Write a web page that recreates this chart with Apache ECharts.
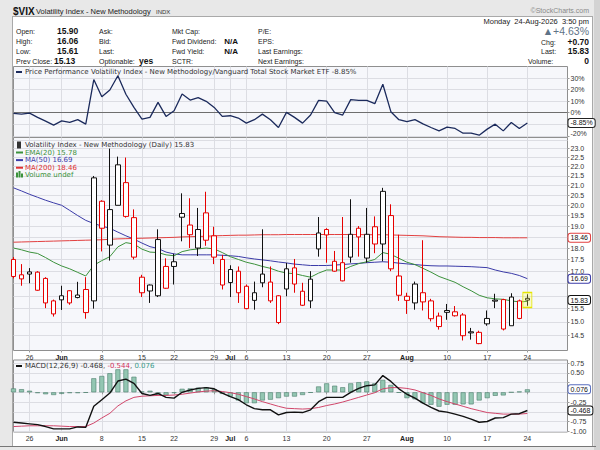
<!DOCTYPE html>
<html><head><meta charset="utf-8">
<script src="https://cdn.jsdelivr.net/npm/echarts@6.0.0/dist/echarts.min.js"></script>
<style>
html,body{margin:0;padding:0;background:#e8e8e8;width:600px;height:450px;overflow:hidden;}
#frame{position:absolute;left:12px;top:16px;width:581px;height:431px;background:#fff;border:1px solid #a9a9a9;box-sizing:border-box;}
#strip{position:absolute;left:594px;top:0;width:6px;height:450px;background:#d3d3d3;}
#bline{position:absolute;left:0;top:446px;width:596px;height:1px;background:#777;}
#chart{position:absolute;left:0;top:0;width:600px;height:450px;}
</style></head><body>
<div id="frame"></div><div id="strip"></div><div id="bline"></div><div id="chart"></div>
<script>
// ---------------- data ----------------
const tradeDates = ['2026-05-21','2026-05-22','2026-05-26','2026-05-27','2026-05-28','2026-05-29',
 '2026-06-01','2026-06-02','2026-06-03','2026-06-04','2026-06-05',
 '2026-06-08','2026-06-09','2026-06-10','2026-06-11','2026-06-12',
 '2026-06-15','2026-06-16','2026-06-17','2026-06-18',
 '2026-06-22','2026-06-23','2026-06-24','2026-06-25','2026-06-26',
 '2026-06-29','2026-06-30','2026-07-01','2026-07-02',
 '2026-07-06','2026-07-07','2026-07-08','2026-07-09','2026-07-10',
 '2026-07-13','2026-07-14','2026-07-15','2026-07-16','2026-07-17',
 '2026-07-20','2026-07-21','2026-07-22','2026-07-23','2026-07-24',
 '2026-07-27','2026-07-28','2026-07-29','2026-07-30','2026-07-31',
 '2026-08-03','2026-08-04','2026-08-05','2026-08-06','2026-08-07',
 '2026-08-10','2026-08-11','2026-08-12','2026-08-13','2026-08-14',
 '2026-08-17','2026-08-18','2026-08-19','2026-08-20','2026-08-21',
 '2026-08-24'];
const futureDates = ['2026-08-25','2026-08-26','2026-08-27','2026-08-28','2026-08-31'];
const tickDates = ['2026-05-26','2026-06-01','2026-06-08','2026-06-15','2026-06-22','2026-06-29','2026-07-01',
 '2026-07-06','2026-07-13','2026-07-20','2026-07-27','2026-08-03','2026-08-10','2026-08-17','2026-08-24'];
const tickLabels = ['26','Jun','8','15','22','29','Jul','6','13','20','27','Aug','10','17','24'];

const openP = [17.50,16.85,16.88,16.96,16.70,15.80,15.84,16.20,15.93,16.25,
 15.80,20.20,18.13,20.00,21.15,19.40,16.75,16.19,16.00,17.20,
 17.40,19.60,19.05,18.00,19.63,18.55,17.50,17.07,17.00,16.38,
 15.82,16.52,16.55,16.00,16.27,17.14,16.18,15.80,17.96,18.84,
 17.42,17.36,17.60,18.90,17.56,18.97,18.18,19.50,16.80,15.98,
 15.72,16.12,15.80,15.22,15.36,15.38,15.26,14.64,14.62,14.93,
 15.83,15.85,14.86,15.80,15.90];
const highP = [17.60,17.30,17.13,17.00,16.75,15.85,16.40,16.22,16.56,16.75,
 21.50,20.25,23.00,22.55,22.50,19.80,16.85,16.45,18.85,17.55,
 17.75,20.60,20.35,19.87,20.68,18.97,17.70,17.25,17.20,16.45,
 16.57,18.85,17.20,16.02,17.35,17.52,16.52,17.00,19.43,18.90,
 17.87,19.43,20.30,19.00,19.87,19.46,20.88,20.05,18.60,16.12,
 16.57,18.35,15.88,15.35,15.68,15.60,15.33,14.78,14.68,15.43,
 16.08,15.88,16.10,15.85,16.06];
const lowP = [16.70,16.40,16.50,16.20,15.52,15.20,15.45,15.65,15.90,15.12,
 15.50,17.85,17.45,20.00,19.40,17.50,15.95,15.72,15.95,16.28,
 16.45,18.30,18.00,17.65,18.10,17.30,16.25,15.95,15.72,15.48,
 15.46,16.34,15.72,14.92,15.98,16.12,15.60,15.52,17.62,17.36,
 16.98,16.58,17.36,17.62,17.36,17.77,17.42,17.00,15.80,15.30,
 15.46,15.43,15.02,14.72,15.08,15.20,14.33,14.36,14.20,14.86,
 15.52,14.69,14.86,15.10,15.61];
const closeP = [16.78,16.68,16.97,16.22,15.72,15.30,16.00,15.72,16.03,15.35,
 21.40,18.90,19.79,22.10,19.46,17.60,16.12,16.43,18.38,16.30,
 17.20,19.42,18.60,18.84,18.35,17.60,16.43,16.53,16.12,15.50,
 16.12,16.88,15.80,14.98,17.10,16.47,15.63,16.67,18.68,18.59,
 17.00,16.60,18.62,18.50,18.62,18.18,20.70,17.10,16.02,15.82,
 16.47,15.76,15.12,14.83,15.43,15.23,14.50,14.60,14.22,15.13,
 15.79,14.74,15.95,15.13,15.83];
const ema20 = [18.00,17.92,17.82,17.76,17.58,17.38,17.22,17.10,16.95,16.80,
 17.25,17.45,17.62,18.05,18.24,18.18,17.95,17.82,17.80,17.70,
 17.66,17.84,17.92,17.96,18.00,17.96,17.80,17.62,17.50,17.38,
 17.30,17.20,17.12,17.00,16.92,16.90,16.82,16.75,16.92,17.05,
 17.05,17.05,17.20,17.32,17.40,17.50,17.80,17.72,17.55,17.38,
 17.28,17.12,16.96,16.78,16.66,16.54,16.36,16.20,16.02,15.92,
 15.88,15.86,15.80,15.76,15.78];
const ma50 = [20.88,20.72,20.55,20.40,20.25,20.12,20.00,19.75,19.50,19.27,
 19.12,19.00,18.90,18.72,18.55,18.40,18.22,18.06,17.98,17.82,
 17.74,17.70,17.70,17.70,17.70,17.70,17.68,17.66,17.63,17.57,
 17.52,17.48,17.44,17.39,17.35,17.30,17.27,17.24,17.24,17.24,
 17.26,17.28,17.31,17.33,17.36,17.38,17.40,17.38,17.34,17.31,
 17.28,17.25,17.23,17.22,17.22,17.21,17.20,17.19,17.17,17.15,
 17.05,16.97,16.91,16.82,16.69];
const ma200 = [18.26,18.27,18.28,18.29,18.30,18.31,18.32,18.33,18.34,18.35,
 18.36,18.37,18.39,18.41,18.42,18.43,18.44,18.45,18.46,18.47,
 18.48,18.50,18.51,18.52,18.53,18.55,18.56,18.57,18.58,18.58,
 18.59,18.60,18.60,18.60,18.61,18.61,18.61,18.61,18.61,18.61,
 18.61,18.61,18.61,18.61,18.60,18.60,18.60,18.59,18.58,18.57,
 18.56,18.55,18.53,18.51,18.50,18.49,18.48,18.48,18.47,18.47,
 18.47,18.46,18.46,18.46,18.46];
const perfPct = [-0.6,-1.2,-0.3,-4.0,-7.3,-10.7,-7.0,-8.4,-6.0,-9.9,
 28.7,13.9,19.7,32.0,16.0,4.6,-5.5,-4.0,9.0,-3.2,
 1.7,16.2,11.0,13.0,9.9,4.6,-3.2,-2.6,-4.6,-9.0,
 -6.0,-1.2,-6.0,-12.8,0.3,-4.0,-9.0,-2.0,10.7,10.0,
 0.0,-2.0,11.3,10.7,10.7,7.8,24.6,0.9,-6.0,-7.8,
 -6.0,-9.6,-12.8,-15.7,-12.5,-13.6,-17.7,-17.7,-19.4,-14.2,
 -9.9,-15.7,-8.4,-13.6,-8.85];
const macdLine = [-0.77,-0.79,-0.81,-0.83,-0.88,-0.94,-0.94,-0.94,-0.89,-0.90,
 -0.36,-0.19,-0.02,0.29,0.34,0.23,-0.03,-0.08,-0.03,-0.13,
 -0.15,0.00,0.06,0.10,0.12,0.09,-0.02,-0.11,-0.19,-0.32,
 -0.42,-0.45,-0.45,-0.58,-0.52,-0.51,-0.52,-0.45,-0.24,-0.13,
 -0.13,-0.13,0.00,0.10,0.17,0.19,0.43,0.28,0.09,-0.05,
 -0.15,-0.28,-0.39,-0.48,-0.51,-0.56,-0.62,-0.69,-0.77,-0.75,
 -0.66,-0.65,-0.56,-0.55,-0.468];
const signalLine = [-0.88,-0.87,-0.86,-0.86,-0.86,-0.86,-0.87,-0.88,-0.88,-0.88,
 -0.79,-0.66,-0.54,-0.35,-0.22,-0.13,-0.10,-0.09,-0.08,-0.08,
 -0.07,-0.05,-0.02,0.01,0.03,0.04,0.02,-0.01,-0.05,-0.11,
 -0.17,-0.24,-0.30,-0.36,-0.41,-0.42,-0.43,-0.42,-0.39,-0.34,
 -0.30,-0.25,-0.19,-0.13,-0.07,-0.01,0.09,0.12,0.12,0.10,
 0.06,-0.01,-0.08,-0.17,-0.24,-0.30,-0.36,-0.42,-0.47,-0.52,
 -0.54,-0.56,-0.56,-0.56,-0.544];
const macdHist = [0.10,0.08,0.04,-0.02,-0.05,-0.07,-0.04,-0.02,-0.02,-0.01,
 0.36,0.42,0.49,0.59,0.59,0.40,0.02,0.04,-0.07,-0.08,
 -0.02,0.09,0.10,0.12,0.13,0.08,-0.04,-0.11,-0.21,-0.28,
 -0.28,-0.21,-0.19,-0.15,-0.11,-0.11,-0.07,-0.01,0.15,0.23,
 0.17,0.13,0.23,0.26,0.28,0.23,0.32,0.19,-0.01,-0.15,
 -0.18,-0.28,-0.32,-0.37,-0.32,-0.32,-0.31,-0.31,-0.21,-0.15,
 -0.09,-0.08,0.00,0.02,0.076];
const priceTicks = [14.5,15,15.5,16,16.5,17,17.5,18,18.5,19,19.5,20,20.5,21,21.5,22,22.5,23,23.5];
const perfTicks = [-20,-10,0,10,20,30];
const macdTicks = [-1,-0.75,-0.5,-0.25,0,0.25,0.5,0.75];

// ---------------- build ----------------
const LS = '"Liberation Sans", Arial, sans-serif';
const DV = '"DejaVu Sans", Verdana, sans-serif';
const RED = '#e60000', BLK = '#111111';
const GRIDC = '#dcdde3';
const categories = tradeDates.concat(futureDates);
const n = tradeDates.length, last = n - 1;
const isTick = (i, v) => tickDates.indexOf(v) >= 0;

const P = { perf: { min: -21, max: 40, h: 70.5, log: false },
            price: { min: 13.98, max: 23.64, h: 213, log: true },
            macd: { min: -1.02, max: 0.83, h: 72, log: false } };
// drop tick labels that a value box on the axis would hide
function visibleLabels(ticks, p, boxes) {
  const f = p.log ? Math.log : (v => v);
  const k = p.h / (f(p.max) - f(p.min));
  return ticks.filter(t => !boxes.some(b => Math.abs((f(t) - f(b)) * k) < 7));
}

const candleData = tradeDates.map((d, i) => {
  const o = openP[i], c = closeP[i];
  const down = i === 0 ? c < o : c < closeP[i - 1];
  const col = down ? RED : BLK;
  return { value: [o, c, lowP[i], highP[i]],
    itemStyle: { color: '#ffffff', color0: col, borderColor: col, borderColor0: col, borderWidth: 1 } };
});

function xAx(gi, showLabels) {
  return {
    type: 'category', gridIndex: gi, data: categories, boundaryGap: false,
    axisLine: { show: false },
    axisTick: { show: showLabels, interval: isTick, length: 2, lineStyle: { color: '#999' } },
    axisLabel: { show: showLabels, interval: isTick, margin: 3, fontSize: 7, fontFamily: LS, color: '#333',
      formatter: v => { const k = tickDates.indexOf(v); if (k < 0) return ''; const t = tickLabels[k];
        return /^[A-Z]/.test(t) ? '{m|' + t + '}' : t; },
      rich: { m: { fontWeight: 'bold', fontSize: 7, fontFamily: LS, color: '#222' } } },
    splitLine: { show: true, interval: isTick, lineStyle: { color: GRIDC, width: 1 } }
  };
}
const richEdge = {
  top: { fontSize: 7, fontFamily: LS, color: '#333', padding: [5, 0, 0, 0] },
  bot: { fontSize: 7, fontFamily: LS, color: '#333', padding: [0, 0, 4, 0] }
};
function yAx(gi, p, ticks, labels, fmt, edge) {
  const ax = {
    type: p.log ? 'log' : 'value', gridIndex: gi, position: 'right', min: p.min, max: p.max,
    axisLine: { show: false },
    axisTick: { show: true, length: 2, customValues: ticks, lineStyle: { color: '#999' } },
    axisLabel: { customValues: labels, margin: 3, fontSize: 7, fontFamily: LS, color: '#333', rich: richEdge,
      formatter: v => { const s = fmt(v);
        if (edge === 'top' && v === labels[labels.length - 1]) return '{top|' + s + '}';
        if (edge === 'bot' && v === labels[0]) return '{bot|' + s + '}';
        return s; } },
    splitLine: { show: true, lineStyle: { color: GRIDC, width: 1 } }
  };
  if (p.log) ax.logBase = 10;
  return ax;
}
function boxMark(val, text, border) {
  return { yAxis: val, lineStyle: { color: 'rgba(0,0,0,0)', width: 0 },
    label: { show: true, position: 'end', formatter: text, distance: 1, color: '#111', fontSize: 7, fontFamily: LS,
      backgroundColor: '#ffffff', borderColor: border, borderWidth: 1, borderRadius: 2, padding: [1, 2, 0, 2], opacity: 1 } };
}
const mk = (data) => ({ silent: true, symbol: ['none', 'none'], animation: false, data: data });

const G = [];
function T(x, y, text, o) {
  o = o || {};
  G.push({ type: 'text', x: x, y: y, silent: true, z: 100,
    style: { text: text, fill: o.color || '#222', fontSize: o.size || 7, fontFamily: o.font || LS,
      fontWeight: o.bold ? 'bold' : 'normal', align: o.align || 'left', verticalAlign: 'middle',
      textAlign: o.align || 'left', textVerticalAlign: 'middle', rich: o.rich } });
}
function R(x, y, w, h, color) {
  G.push({ type: 'rect', silent: true, z: 100, shape: { x: x, y: y, width: w, height: h }, style: { fill: color } });
}
const f2 = v => v.toFixed(2);
const chg = closeP[last] - closeP[last - 1];

// title + header
T(13, 11, '$VIX', { size: 10, bold: true, color: '#111' });
T(36, 11, 'Volatility Index - New Methodology', { size: 7.5 });
T(156, 11.5, 'INDX', { size: 6, color: '#333' });
T(589, 10, '©StockCharts.com', { size: 7, color: '#888', align: 'right' });
T(589, 21, 'Monday  24-Aug-2026  3:50 pm', { size: 7.5, align: 'right' });
T(589, 31, '▲+' + (chg / closeP[last - 1] * 100).toFixed(2) + '%', { size: 10.5, color: '#5f7387', align: 'right' });
const rows = [31, 41.3, 51, 61];
const V = { bold: true, size: 8.5, color: '#111' };
T(16, rows[0], 'Open:'); T(57, rows[0], f2(openP[last]), V);
T(16, rows[1], 'High:'); T(57, rows[1], f2(highP[last]), V);
T(16, rows[2], 'Low:'); T(57, rows[2], f2(lowP[last]), V);
T(16, rows[3], 'Prev Close:'); T(54, rows[3], f2(closeP[last - 1]), V);
T(99, rows[0], 'Ask:'); T(99, rows[1], 'Bid:'); T(99, rows[2], 'Last:'); T(99, rows[3], 'Optionable:');
T(139, rows[3], 'yes', V);
T(172, rows[0], 'Mkt Cap:'); T(172, rows[1], 'Fwd Dividend:'); T(172, rows[2], 'Fwd Yield:'); T(172, rows[3], 'SCTR:');
T(238, rows[1], 'N/A', { bold: true, size: 8, align: 'right', color: '#111' });
T(238, rows[2], 'N/A', { bold: true, size: 8, align: 'right', color: '#111' });
T(258, rows[0], 'P/E:'); T(258, rows[1], 'EPS:'); T(258, rows[2], 'Last Earnings:'); T(258, rows[3], 'Next Earnings:');
T(541, 42, 'Chg:'); T(589, 42, '+' + f2(chg), Object.assign({ align: 'right' }, V));
T(541, rows[2], 'Last:'); T(589, rows[2], f2(closeP[last]), Object.assign({ align: 'right' }, V));
T(528, rows[3], 'Volume:'); T(589, rows[3], '0', Object.assign({ align: 'right' }, V));

// panel legends
R(16, 71, 6, 2, '#1b2a5c');
T(25, 72, 'Price Performance Volatility Index - New Methodology/Vanguard Total Stock Market ETF ' + f2(perfPct[last]) + '%', { font: DV, size: 7, color: '#333' });
R(17, 141.5, 4, 7, '#333');
T(25, 145, 'Volatility Index - New Methodology (Daily) ' + f2(closeP[last]), { font: DV, size: 7, color: '#333' });
R(16, 151.5, 7, 2, '#3c923c'); T(25, 152.6, 'EMA(20) ' + f2(ema20[last]), { font: DV, size: 7, color: '#3c923c' });
R(16, 159.1, 7, 2, '#3b3ba8'); T(25, 160.2, 'MA(50) ' + f2(ma50[last]), { font: DV, size: 7, color: '#3b3ba8' });
R(16, 166.7, 7, 2, '#e03030'); T(25, 167.8, 'MA(200) ' + f2(ma200[last]), { font: DV, size: 7, color: '#e03030' });
R(16, 172.5, 2, 5, '#3c923c'); R(18.5, 171, 2, 6.5, '#3c923c'); R(21, 173.5, 2, 4, '#3c923c');
T(25, 175.4, 'Volume undef', { font: DV, size: 7, color: '#3c923c' });
R(16, 365, 6, 2, '#111');
T(25, 366, 'MACD(12,26,9) {k|' + macdLine[last].toFixed(3) + '}, {r|' + signalLine[last].toFixed(3) + '}, {t|' + macdHist[last].toFixed(3) + '}',
  { font: DV, size: 7, color: '#333', rich: {
    k: { fill: '#333', fontSize: 7, fontFamily: DV },
    r: { fill: '#d0305a', fontSize: 7, fontFamily: DV },
    t: { fill: '#3a9a8a', fontSize: 7, fontFamily: DV } } });

const gridBase = { left: 13.5, width: 554, show: true, backgroundColor: '#f6f7fb', borderColor: '#8f8f8f', borderWidth: 1, containLabel: false };

const perfLabels = visibleLabels(perfTicks, P.perf, [perfPct[last]]);
const priceLabels = visibleLabels(priceTicks, P.price, [ma200[last], ma50[last], closeP[last]]);
const macdLabels = visibleLabels(macdTicks, P.macd, [macdLine[last], macdHist[last]]);

const option = {
  animation: false,
  grid: [
    Object.assign({ top: 66.5, height: P.perf.h }, gridBase),
    Object.assign({ top: 137.5, height: P.price.h }, gridBase),
    Object.assign({ top: 360, height: P.macd.h }, gridBase)
  ],
  xAxis: [xAx(0, false), xAx(1, true), xAx(2, true)],
  yAxis: [
    yAx(0, P.perf, perfTicks, perfLabels, v => v + '%', 'bot'),
    yAx(1, P.price, priceTicks, priceLabels, v => v.toFixed(1), 'top'),
    yAx(2, P.macd, macdTicks, macdLabels, v => v.toFixed(2), null)
  ],
  series: [
    { type: 'line', name: 'perf', xAxisIndex: 0, yAxisIndex: 0, data: perfPct, showSymbol: false, symbol: 'none',
      lineStyle: { color: '#1b2a5c', width: 1.3 }, z: 5,
      markLine: mk([
        { yAxis: 0, lineStyle: { color: '#6e6e6e', width: 1, type: 'solid' }, label: { show: false } },
        boxMark(perfPct[last], f2(perfPct[last]) + '%', '#222')
      ]) },
    { type: 'line', name: 'MA200', xAxisIndex: 1, yAxisIndex: 1, data: ma200, showSymbol: false, symbol: 'none',
      lineStyle: { color: '#e24040', width: 1 }, z: 2, markLine: mk([boxMark(ma200[last], f2(ma200[last]), '#e24040')]) },
    { type: 'line', name: 'MA50', xAxisIndex: 1, yAxisIndex: 1, data: ma50, showSymbol: false, symbol: 'none',
      lineStyle: { color: '#3b3ba8', width: 1 }, z: 2, markLine: mk([boxMark(ma50[last], f2(ma50[last]), '#3b3ba8')]) },
    { type: 'line', name: 'EMA20', xAxisIndex: 1, yAxisIndex: 1, data: ema20, showSymbol: false, symbol: 'none',
      lineStyle: { color: '#3c923c', width: 1 }, z: 2 },
    { type: 'candlestick', name: 'VIX', xAxisIndex: 1, yAxisIndex: 1, data: candleData, barWidth: 5, z: 3,
      markPoint: { silent: true, animation: false, data: [{ coord: [tradeDates[last], (highP[last] + lowP[last]) / 2],
        symbol: 'rect', symbolSize: [9, 15], itemStyle: { color: 'rgba(255,255,60,0.25)', borderColor: '#e6e600', borderWidth: 1 },
        label: { show: false } }] },
      markLine: mk([boxMark(closeP[last], f2(closeP[last]), '#111')]) },
    { type: 'bar', name: 'hist', xAxisIndex: 2, yAxisIndex: 2, data: macdHist, barWidth: 5, z: 2,
      itemStyle: { color: '#93c6b2', borderColor: '#4c7d6c', borderWidth: 0.6 },
      markLine: mk([boxMark(macdHist[last], macdHist[last].toFixed(3), '#5a6fc0')]) },
    { type: 'line', name: 'signal', xAxisIndex: 2, yAxisIndex: 2, data: signalLine, showSymbol: false, symbol: 'none',
      lineStyle: { color: '#d0466a', width: 1 }, z: 3 },
    { type: 'line', name: 'macd', xAxisIndex: 2, yAxisIndex: 2, data: macdLine, showSymbol: false, symbol: 'none',
      lineStyle: { color: '#111', width: 1.4 }, z: 4,
      markLine: mk([boxMark(macdLine[last], macdLine[last].toFixed(3), '#111')]) }
  ],
  graphic: { elements: G }
};
const chart = echarts.init(document.getElementById('chart'), null, { renderer: 'svg', width: 600, height: 450 });
chart.setOption(option);
</script></body></html>
